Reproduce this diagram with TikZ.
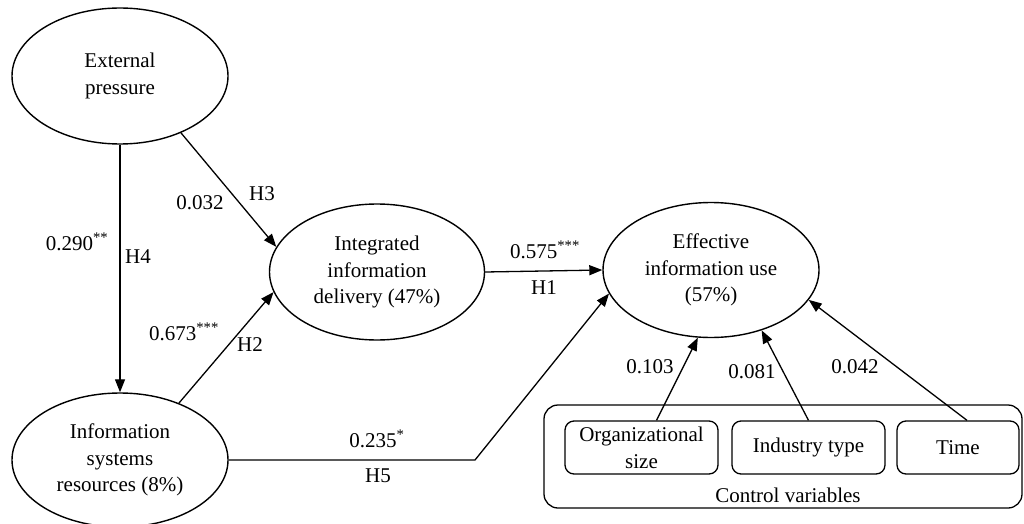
\documentclass[tikz,border=0pt]{standalone}
\usepackage{fontspec}
\setmainfont{Liberation Serif}
\usetikzlibrary{shapes.geometric,arrows.meta}
\begin{document}
\begin{tikzpicture}[x=1pt,y=-1pt,
  every node/.style={font=\fontsize{21}{26.7}\selectfont},
  lv/.style={draw,ellipse,line width=1.4pt,inner sep=0pt,align=center,minimum width=216pt,minimum height=136pt},
  cv/.style={draw,rounded corners=9pt,line width=1.3pt,inner sep=0pt,align=center,minimum height=53pt},
  conn/.style={line width=1.3pt,-{Triangle[length=13pt,width=10pt]}},
  lbl/.style={inner sep=0pt}]
\useasboundingbox (0,0) rectangle (1024,524);
% latent variables
\node[lv] (EP) at (120,76) {External\\pressure};
\node[lv,minimum height=134pt] (IS) at (120,460) {Information\\systems\\resources (8\%)};
\node[lv,minimum width=215pt] (ID) at (377,272) {Integrated\\information\\delivery (47\%)};
\node[lv,minimum height=135pt] (EIU) at (711,270) {Effective\\information use\\(57\%)};
% control variables
\node[draw,rounded corners=14pt,line width=1.3pt,minimum width=478pt,minimum height=103pt,inner sep=0pt] (CV) at (783,456.5) {};
\node[lbl] (CVL) at (788,495) {Control variables};
\node[cv,minimum width=153pt] (ORG) at (641.5,447.5) {Organizational\\size};
\node[cv,minimum width=153pt] (IND) at (808.5,447.5) {Industry type};
\node[cv,minimum width=122pt] (TIME) at (958,447.5) {Time};
% connectors
\draw[conn] (EP.south) -- (IS.north);
\draw[conn] (EP.-43.5) -- (ID.166);
\draw[conn] (IS.44) -- (ID.-169);
\draw[conn] (ID.east) -- (EIU.west);
\coordinate (K5) at (475,460);
\draw[conn] (IS.east) -- (K5) -- (EIU.-167);
\draw[conn] ([xshift=15pt]ORG.north) -- (EIU.-101);
\draw[conn] (IND.north) -- (EIU.-50);
\draw[conn] ([xshift=9pt]TIME.north) -- (EIU.-17.2);
% labels
\node[lbl] (L4a) at (77,242) {0.290\textsuperscript{**}};
\node[lbl] (L4b) at (138,257) {H4};
\node[lbl] (L3a) at (200,203) {0.032};
\node[lbl] (L3b) at (262,194) {H3};
\node[lbl] (L2a) at (184,332) {0.673\textsuperscript{***}};
\node[lbl] (L2b) at (250,345) {H2};
\node[lbl] (L1a) at (545,250) {0.575\textsuperscript{***}};
\node[lbl] (L1b) at (544,288) {H1};
\node[lbl] (L5a) at (377,439) {0.235\textsuperscript{*}};
\node[lbl] (L5b) at (378,476) {H5};
\node[lbl] (LC1) at (650,367) {0.103};
\node[lbl] (LC2) at (752,372) {0.081};
\node[lbl] (LC3) at (855,367) {0.042};
\end{tikzpicture}
\end{document}
